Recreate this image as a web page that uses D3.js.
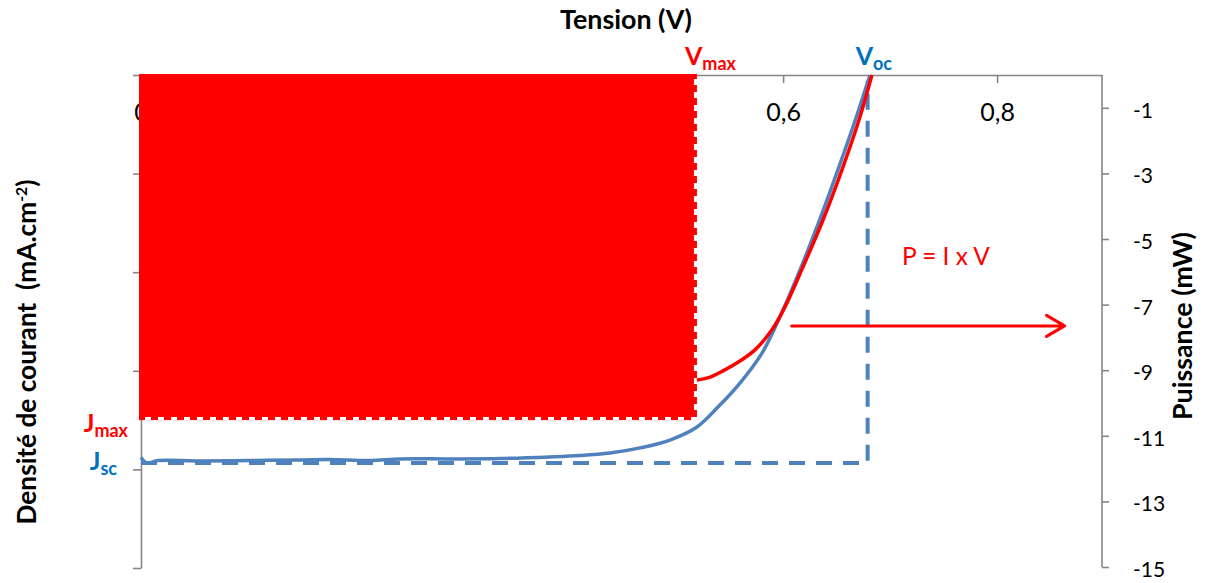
<!DOCTYPE html>
<html><head><meta charset="utf-8">
<script src="https://cdn.jsdelivr.net/npm/d3@7"></script>
<style>body{margin:0;background:#fff;} svg{display:block;font-family:Lato,"Open Sans",sans-serif;}</style>
</head><body>
<svg id="c" width="1205" height="583"></svg>
<script>
// ---- data ----
const voltageJ = [0,0.0056,0.0159,0.0551,0.1018,0.1486,0.1766,0.2140,0.2420,0.2887,0.3354,0.3822,0.4102,0.4382,0.4663,0.4943,0.5195,0.5391,0.5597,0.5803,0.5999,0.6158,0.6345,0.6532,0.6681,0.6812];
const currentDensity = [-19.40,-19.68,-19.55,-19.57,-19.55,-19.52,-19.50,-19.55,-19.47,-19.47,-19.45,-19.37,-19.30,-19.17,-18.91,-18.51,-17.85,-16.84,-15.62,-14.10,-11.92,-9.89,-7.30,-4.51,-2.18,0];
const voltageP = [0.5195,0.5317,0.5438,0.5597,0.5737,0.5896,0.6018,0.6186,0.6373,0.6560,0.6718,0.6830];
const power = [-9.30,-9.21,-9.02,-8.72,-8.38,-7.77,-7.07,-5.85,-4.42,-2.80,-1.28,0];
const xTickValues = [0,0.2,0.4,0.6,0.8];
const xTickLabels = ["0","0,2","0,4","0,6","0,8"];
const leftTickValues = [0,-5,-10,-15,-20,-25];
const rightTickValues = [-1,-3,-5,-7,-9,-11,-13,-15];
const Vmax = 0.5195, Jmax = -17.5, Voc = 0.679, Jsc = -19.68;
const arrowV = [0.608, 0.863], arrowP = -7.65;
const formulaV = 0.711, formulaP = -5.79;

// ---- scales ----
const svg = d3.select("#c");
const x = d3.scaleLinear().domain([0, 0.898]).range([141, 1102]);
const yL = d3.scaleLinear().domain([0, -25]).range([75, 568]);
const yR = d3.scaleLinear().domain([0, -15]).range([75, 567]);
const AX = "#868686", RED = "#FF0000", BLUE = "#4F81BD", TBLUE = "#0070C0";

function styleAxis(g){ g.selectAll("path,line").attr("stroke", AX).attr("stroke-width", 1.6); g.selectAll("text").attr("fill","#000").attr("font-family","Lato"); }

// top x axis
const gx = svg.append("g").attr("transform", `translate(0,${yL(0)})`)
  .call(d3.axisBottom(x).tickValues(xTickValues).tickSize(8).tickSizeOuter(0).tickPadding(20)
  .tickFormat((d,i)=>xTickLabels[i]));
gx.call(styleAxis); gx.selectAll("text").attr("font-size",25);
// left axis
const gl = svg.append("g").attr("transform", `translate(${x(0)},0)`)
  .call(d3.axisLeft(yL).tickValues(leftTickValues).tickSize(8).tickSizeOuter(0).tickFormat(""));
gl.call(styleAxis);
// right axis
const gr = svg.append("g").attr("transform", `translate(${x(0.898)},0)`)
  .call(d3.axisRight(yR).tickValues(rightTickValues).tickSize(7).tickSizeOuter(0).tickPadding(24).tickFormat(d=>String(d)));
gr.call(styleAxis); gr.selectAll("text").attr("font-size",21).attr("dy","0.45em");
gr.select(".domain").attr("d", `M0,${yR(0)}V${yR(-15)}`);

function fit(sel, w){ const l = sel.node().getComputedTextLength(); const fs = parseFloat(sel.attr("font-size")); sel.attr("font-size", fs*w/l); }

// titles
const t1 = svg.append("text").attr("x",626).attr("y",29).attr("text-anchor","middle").attr("font-weight","bold").attr("font-size",25).text("Tension (V)");
fit(t1,132);
const t2 = svg.append("text").attr("transform","translate(36,352) rotate(-90)").attr("text-anchor","middle").attr("font-weight","bold").attr("font-size",24).style("white-space","pre");
t2.append("tspan").text("Densité de courant  (mA.cm");
t2.append("tspan").attr("baseline-shift","super").attr("font-size","0.6em").text("-2");
t2.append("tspan").text(")");
fit(t2,345);
const t3 = svg.append("text").attr("transform","translate(1192,326) rotate(-90)").attr("text-anchor","middle").attr("font-weight","bold").attr("font-size",24).text("Puissance (mW)");
fit(t3,188);

// red rectangle Pmax = Vmax x Jmax
svg.append("rect").attr("x", x(0)-2).attr("y", yL(0)-1).attr("width", x(Vmax)-x(0)+2).attr("height", yL(Jmax)-yL(0)+1).attr("fill", RED);
svg.append("path").attr("d", `M${x(0)},${yL(Jmax)-1.5}H${x(Vmax)-1.5}V${yL(0)}`)
  .attr("fill","none").attr("stroke","#fff").attr("stroke-width",3).attr("stroke-dasharray","6,7").attr("stroke-dashoffset",-4);

// blue dashed guides Jsc / Voc
svg.append("path").attr("d", `M${x(0)},${yL(Jsc)}H${x(Voc)}V${yL(-0.3)}`)
  .attr("fill","none").attr("stroke",BLUE).attr("stroke-width",4).attr("stroke-dasharray","16,11");

// curves
const lineJ = d3.line().x((d,i)=>x(voltageJ[i])).y(d=>yL(d)).curve(d3.curveCatmullRom.alpha(0.5));
svg.append("path").attr("d", lineJ(currentDensity)).attr("fill","none").attr("stroke",BLUE).attr("stroke-width",3.5);
const lineP = d3.line().x((d,i)=>x(voltageP[i])).y(d=>yR(d)).curve(d3.curveCatmullRom.alpha(0.5));
svg.append("path").attr("d", lineP(power)).attr("fill","none").attr("stroke",RED).attr("stroke-width",3.5);

// arrow
const ax1 = x(arrowV[0]), ax2 = x(arrowV[1]), ay = yR(arrowP);
svg.append("path").attr("d", `M${ax1},${ay}H${ax2}M${ax2-18},${ay-10.5}L${ax2},${ay}L${ax2-18},${ay+10.5}`)
  .attr("fill","none").attr("stroke",RED).attr("stroke-width",3).attr("stroke-linecap","round").attr("stroke-linejoin","round");
const f = svg.append("text").attr("x", x(formulaV)).attr("y", yR(formulaP)).attr("fill",RED).attr("font-size",24).text("P = I x V");
fit(f,88);

// labels
function subLabel(xx, yy, main, sub, color, anchor){
  const t = svg.append("text").attr("x",xx).attr("y",yy).attr("fill",color).attr("font-weight","bold").attr("text-anchor",anchor||"start");
  t.append("tspan").attr("font-size",25).text(main);
  t.append("tspan").attr("font-size",18).attr("dy",5).text(sub);
  return t;
}
subLabel(x(Vmax)-12, 65, "V", "max", RED);
subLabel(x(Voc)-12, 65, "V", "oc", TBLUE);
subLabel(x(0)-13, yL(Jmax)+12, "J", "max", RED, "end");
subLabel(x(0)-24, yL(Jsc)+7, "J", "sc", TBLUE, "end");
</script>
</body></html>
